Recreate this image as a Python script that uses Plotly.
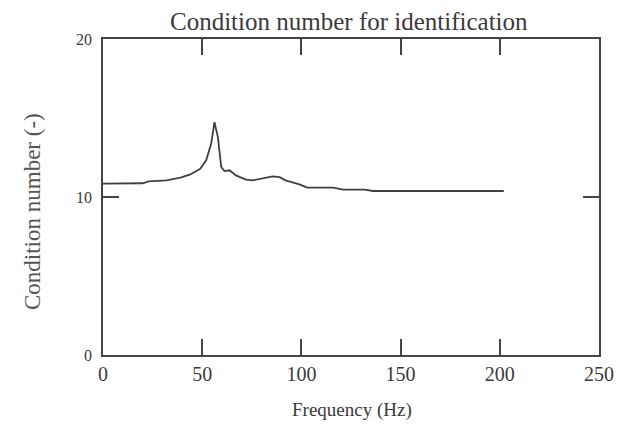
import plotly.graph_objects as go

# Data
freq_hz = [0, 20, 23, 32, 39, 44, 49, 52, 54.5, 56.2, 57.9, 59.6, 61.2, 63.8, 67, 72, 75.5,
           80.5, 85.5, 89, 92, 99, 103, 116, 121, 132, 136, 149, 175, 202]
cond_num = [10.85, 10.87, 10.99, 11.05, 11.23, 11.43, 11.79, 12.32, 13.37, 14.74, 13.79,
            11.90, 11.64, 11.69, 11.37, 11.10, 11.05, 11.16, 11.31, 11.26, 11.05, 10.80,
            10.59, 10.59, 10.47, 10.47, 10.38, 10.38, 10.38, 10.38]
x_ticks = [0, 50, 100, 150, 200, 250]
y_ticks = [0, 10, 20]

title_text = "Condition number for identification"
x_title = "Frequency (Hz)"
y_title = "Condition number (-)"

serif = "Liberation Serif"
ink = "#3a3a3a"

L, R, T, B = 103, 20, 39, 73
W, H = 619, 428
pw, ph = W - L - R, H - T - B


def px(xp):
    return (xp - L) / pw


def py(yp):
    return (H - B - yp) / ph


fig = go.Figure()
fig.add_trace(go.Scatter(x=freq_hz, y=cond_num, mode="lines",
                         line=dict(color="#404040", width=1.8), showlegend=False))

fig.update_layout(
    width=W, height=H,
    margin=dict(l=L, r=R, t=T, b=B),
    paper_bgcolor="white", plot_bgcolor="white",
    font=dict(family=serif, color=ink),
)

fig.add_annotation(text=title_text, x=px(349), y=py(22), xref="paper", yref="paper",
                   showarrow=False, xanchor="center", yanchor="middle",
                   font=dict(size=25, family=serif, color=ink))
fig.add_annotation(text=x_title, x=px(352), y=py(410), xref="paper", yref="paper",
                   showarrow=False, xanchor="center", yanchor="middle",
                   font=dict(size=19, family=serif, color=ink))
fig.add_annotation(text=y_title, x=px(32), y=py(212), xref="paper", yref="paper",
                   showarrow=False, xanchor="center", yanchor="middle", textangle=-90,
                   font=dict(size=23, family=serif, color="#555555"))

fig.update_xaxes(range=[0, 250], tickvals=x_ticks, ticktext=[str(v) for v in x_ticks],
                 showline=True, linecolor="#444444", linewidth=1.5, mirror="ticks",
                 ticks="inside", ticklen=16, tickwidth=1.5, tickcolor="#444444",
                 showgrid=False, zeroline=False, automargin=False,
                 tickfont=dict(size=20, family=serif, color=ink))
fig.update_yaxes(range=[0, 20], tickvals=y_ticks, ticktext=[str(v) for v in y_ticks],
                 showline=True, linecolor="#444444", linewidth=1.5, mirror="ticks",
                 ticks="inside", ticklen=16, tickwidth=1.5, tickcolor="#444444",
                 showgrid=False, zeroline=False, ticklabelstandoff=6, automargin=False,
                 tickfont=dict(size=16, family=serif, color=ink))

fig.write_html("out.html")
